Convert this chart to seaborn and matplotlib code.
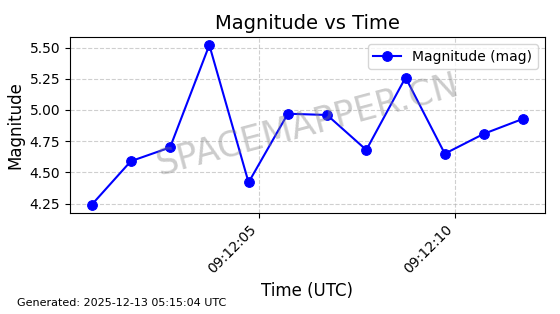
import matplotlib
matplotlib.use("Agg")
import matplotlib.pyplot as plt
import matplotlib.dates as mdates
import seaborn as sns
import pandas as pd

times = ["2025-12-13 09:12:00.74", "2025-12-13 09:12:01.74", "2025-12-13 09:12:02.74",
         "2025-12-13 09:12:03.74", "2025-12-13 09:12:04.74", "2025-12-13 09:12:05.74",
         "2025-12-13 09:12:06.74", "2025-12-13 09:12:07.74", "2025-12-13 09:12:08.74",
         "2025-12-13 09:12:09.74", "2025-12-13 09:12:10.74", "2025-12-13 09:12:11.74"]
magnitudes = [4.24, 4.59, 4.70, 5.52, 4.42, 4.97, 4.96, 4.68, 5.26, 4.65, 4.81, 4.93]

df = pd.DataFrame({"time": pd.to_datetime(times), "mag": magnitudes})

fig, ax = plt.subplots(figsize=(5.6, 3.14), dpi=100)
sns.lineplot(data=df, x="time", y="mag", marker="o", color="blue", markersize=7,
             markeredgecolor="blue", linewidth=1.5, label="Magnitude (mag)", ax=ax)

ax.set_title("Magnitude vs Time", fontsize=14)
ax.set_xlabel("Time (UTC)", fontsize=12)
ax.set_ylabel("Magnitude", fontsize=12)
ax.grid(True, linestyle="--", alpha=0.6)
ax.xaxis.set_major_locator(mdates.SecondLocator(bysecond=range(0, 60, 5)))
ax.xaxis.set_major_formatter(mdates.DateFormatter("%H:%M:%S"))
plt.setp(ax.get_xticklabels(), rotation=45, ha="right")
ax.legend(loc="upper right")

ax.text(0.5, 0.5, "SPACEMAPPER.CN", transform=ax.transAxes, fontsize=25,
        color="gray", alpha=0.4, rotation=15, ha="center", va="center")

fig.text(0.03, 0.025, "Generated: 2025-12-13 05:15:04 UTC", fontsize=8)
fig.subplots_adjust(left=0.125, right=0.973, top=0.882, bottom=0.322)
fig.savefig("out.png", dpi=100)
